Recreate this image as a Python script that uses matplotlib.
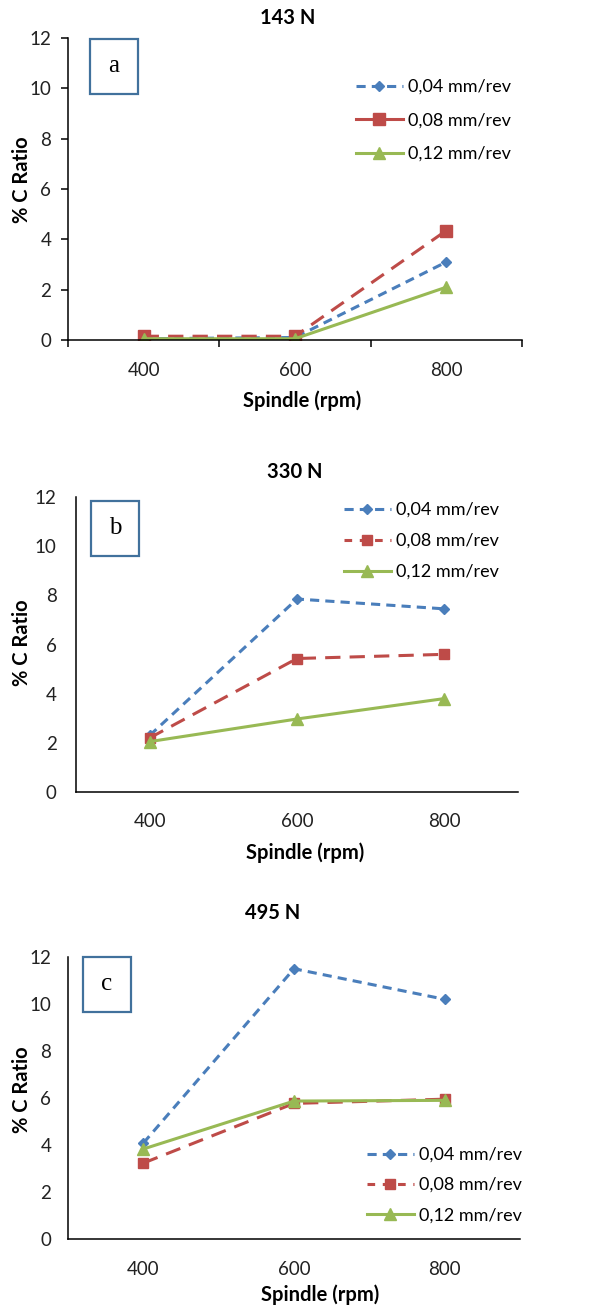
import matplotlib
matplotlib.use("Agg")
import matplotlib.pyplot as plt
from matplotlib.lines import Line2D
from matplotlib.patches import Rectangle

plt.rcParams['font.family'] = ['Lato', 'DejaVu Sans']

# data
spindle = ['400', '600', '800']
feeds = ['0,04 mm/rev', '0,08 mm/rev', '0,12 mm/rev']

a_004 = [0.05, 0.1, 3.1]
a_008 = [0.15, 0.15, 4.35]
a_012 = [0.05, 0.05, 2.1]

b_004 = [2.3, 7.85, 7.45]
b_008 = [2.2, 5.43, 5.6]
b_012 = [2.05, 2.97, 3.8]

c_004 = [4.08, 11.5, 10.2]
c_008 = [3.23, 5.77, 5.95]
c_012 = [3.83, 5.87, 5.9]

titles = ['143 N', '330 N', '495 N']
letters = ['a', 'b', 'c']
yticks = [0, 2, 4, 6, 8, 10, 12]

BLUE = '#4A7EBB'
RED = '#BE4B48'
GREEN = '#98B954'

W, H = 611, 1308
fig = plt.figure(figsize=(W / 100, H / 100), dpi=100)


def px_box(left, top, right, bottom):
    # pixel box -> figure fraction rect
    return [left / W, 1 - bottom / H, (right - left) / W, (bottom - top) / H]


def px(x, y):
    return x / W, 1 - y / H


def draw_panel(rect, series, big_square, ticks_out, ypad, xpad):
    ax = fig.add_axes(rect)
    x = range(len(spindle))
    s004, s008, s012 = series
    ax.plot(x, s004, color=BLUE, lw=2.2, ls=(0, (3, 2)), marker='D', ms=5.5,
            label=feeds[0])
    ax.plot(x, s008, color=RED, lw=2.2, ls=(0, (5, 3)), marker='s',
            ms=9 if big_square else 7, label=feeds[1])
    ax.plot(x, s012, color=GREEN, lw=2.2, marker='^', ms=8, label=feeds[2])
    ax.set_xlim(-0.5, 2.5)
    ax.set_ylim(0, 12)
    ax.set_yticks(yticks)
    ax.set_xticks(list(x))
    ax.set_xticklabels(spindle)
    for s in ['top', 'right']:
        ax.spines[s].set_visible(False)
    for s in ['left', 'bottom']:
        ax.spines[s].set_linewidth(1.1)
    if ticks_out:
        ax.set_xticks([-0.5, 0.5, 1.5, 2.5], minor=True)
        ax.tick_params(axis='x', which='major', length=0, pad=xpad, labelsize=13.5)
        ax.tick_params(axis='x', which='minor', length=5, width=1.1, direction='out')
        ax.tick_params(axis='y', length=5, width=1.1, direction='out', pad=ypad,
                       labelsize=13.5)
    else:
        ax.tick_params(axis='x', length=0, pad=xpad, labelsize=13.5)
        ax.tick_params(axis='y', length=0, pad=ypad, labelsize=13.5)
    for lab in ax.get_xticklabels() + ax.get_yticklabels():
        lab.set_color('#222222')
    return ax


def legend(ax, anchor, red_solid, spacing):
    handles = [
        Line2D([], [], color=BLUE, lw=2.2, ls=(0, (3, 2)), marker='D', ms=5.5),
        Line2D([], [], color=RED, lw=2.2, ls='-' if red_solid else (0, (2.5, 2.5)),
               marker='s', ms=9 if red_solid else 7),
        Line2D([], [], color=GREEN, lw=2.2, marker='^', ms=8),
    ]
    ax.legend(handles, feeds, loc='upper left', bbox_to_anchor=px(*anchor),
              bbox_transform=fig.transFigure, frameon=False, fontsize=13,
              handlelength=2.6, handletextpad=0.3, labelspacing=spacing,
              borderpad=0, borderaxespad=0)


def letter_box(left, top, right, bottom, txt):
    r = px_box(left, top, right, bottom)
    fig.patches.append(Rectangle((r[0], r[1]), r[2], r[3], transform=fig.transFigure,
                                 fill=False, edgecolor='#41719C', lw=1.6))
    fig.text(r[0] + r[2] / 2, r[1] + r[3] / 2, txt, ha='center', va='center',
             fontsize=18, family='Liberation Serif')


def labels(title_xy, title, xlab_xy, ylab_y):
    fig.text(*px(*title_xy), title, ha='center', va='center', fontsize=14.5,
             fontweight='bold')
    fig.text(*px(*xlab_xy), 'Spindle (rpm)', ha='center', va='center', fontsize=14.5,
             fontweight='bold')
    fig.text(*px(22, ylab_y), '% C Ratio', ha='center', va='center', rotation=90,
             fontsize=14.5, fontweight='bold')


# panel a
ax_a = draw_panel(px_box(68, 38, 522, 340), (a_004, a_008, a_012), True, True, 7, 16)
legend(ax_a, (356, 79), True, 0.97)
letter_box(90, 39, 138, 94, letters[0])
labels((288, 18), titles[0], (302, 401), 180)

# panel b
ax_b = draw_panel(px_box(76, 497, 518, 792), (b_004, b_008, b_012), False, False, 14, 15)
legend(ax_b, (344, 502), False, 0.83)
letter_box(91, 501, 139, 556, letters[1])
labels((295, 472), titles[1], (305, 853), 643)

# panel c
ax_c = draw_panel(px_box(68, 957, 520, 1239), (c_004, c_008, c_012), False, False, 12, 16)
legend(ax_c, (367, 1147), False, 0.78)
letter_box(83, 957, 131, 1012, letters[2])
labels((273, 913), titles[2], (320, 1295), 1090)

fig.savefig('out.png', dpi=100, facecolor='white')
